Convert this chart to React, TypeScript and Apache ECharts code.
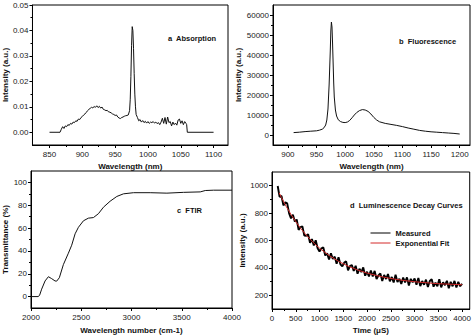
import React, { useEffect, useRef } from "react";
import * as echarts from "echarts";

// ---------- Panel a: Absorption ----------
const absWavelength = [
  850, 866, 868, 870, 872, 874, 876, 878, 880, 882, 884, 886, 888, 890, 892, 894, 896, 898, 900,
  902, 904, 906, 908, 910, 912, 914, 916, 918, 920, 922, 924, 926, 928, 930, 932, 934, 936, 938,
  940, 942, 944, 946, 948, 950, 952, 954, 956, 958, 960, 962, 964, 966, 968, 970, 972, 973, 974,
  975, 976, 977, 978, 979, 980, 981, 982, 984, 986, 988, 990, 992, 994, 996, 998, 1000, 1002,
  1004, 1006, 1008, 1010, 1012, 1014, 1016, 1018, 1020, 1022, 1024, 1026, 1028, 1030, 1032, 1034,
  1036, 1038, 1040, 1042, 1044, 1046, 1048, 1050, 1052, 1054, 1056, 1058, 1059, 1060, 1100,
];
const absIntensity = [
  0, 0, 0.0012, 0.0022, 0.0015, 0.0025, 0.0022, 0.003, 0.0027, 0.0035, 0.0032, 0.004, 0.0038,
  0.0045, 0.0043, 0.0052, 0.005, 0.0058, 0.0062, 0.0068, 0.0072, 0.0078, 0.0085, 0.009, 0.0094,
  0.0098, 0.0096, 0.0101, 0.0098, 0.0104, 0.0097, 0.0102, 0.0095, 0.0099, 0.009, 0.0088, 0.0085,
  0.0086, 0.008, 0.0079, 0.0076, 0.0072, 0.007, 0.0066, 0.0068, 0.006, 0.0056, 0.0054, 0.0058,
  0.006, 0.0063, 0.0065, 0.0066, 0.0068, 0.0085, 0.013, 0.022, 0.034, 0.0415, 0.04, 0.033, 0.023,
  0.015, 0.01, 0.007, 0.0058, 0.0045, 0.005, 0.004, 0.0046, 0.0038, 0.0043, 0.0036, 0.0042,
  0.0035, 0.004, 0.0038, 0.0042, 0.0036, 0.004, 0.0034, 0.0038, 0.003, 0.004, 0.0055, 0.0035,
  0.0058, 0.0032, 0.006, 0.0038, 0.0042, 0.0025, 0.004, 0.003, 0.0036, 0.0028, 0.0048, 0.0052,
  0.0035, 0.0045, 0.003, 0.0042, 0.0035, 0.003, 0, 0,
];
const absXTicks = [850, 900, 950, 1000, 1050, 1100];
const absXMinor = [875, 925, 975, 1025, 1075];
const absYTicks = [0, 0.01, 0.02, 0.03, 0.04, 0.05];
const absYMinor = [0.005, 0.015, 0.025, 0.035, 0.045];

// ---------- Panel b: Fluorescence ----------
const fluWavelength = [
  910, 920, 930, 940, 950, 955, 960, 963, 966, 968, 970, 972, 974, 975, 976, 977, 978, 979, 980,
  981, 983, 985, 988, 992, 996, 1000, 1004, 1008, 1012, 1016, 1020, 1025, 1030, 1035, 1040, 1045,
  1050, 1055, 1060, 1070, 1080, 1090, 1100, 1110, 1120, 1130, 1140, 1150, 1160, 1170, 1180, 1190,
  1200,
];
const fluIntensity = [
  1200, 1400, 1700, 1900, 2100, 2400, 2900, 3600, 5000, 7500, 13000, 25000, 42000, 52000, 56500,
  54000, 46000, 36000, 26000, 19000, 12500, 9500, 7600, 6700, 6300, 6200, 6500, 7300, 8600, 10000,
  11200, 12200, 12700, 12500, 11800, 10500, 8800, 7500, 6600, 5800, 5300, 4800, 4200, 3500, 2900,
  2300, 1900, 1600, 1400, 1200, 1000, 800, 500,
];
const fluXTicks = [900, 950, 1000, 1050, 1100, 1150, 1200];
const fluXMinor = [925, 975, 1025, 1075, 1125, 1175];
const fluYTicks = [0, 10000, 20000, 30000, 40000, 50000, 60000];
const fluYMinor = [5000, 15000, 25000, 35000, 45000, 55000];

// ---------- Panel c: FTIR ----------
const ftirWavenumber = [
  2000, 2070, 2085, 2106, 2140, 2173, 2206, 2239, 2255, 2282, 2322, 2372, 2405, 2439, 2472, 2522,
  2571, 2621, 2671, 2721, 2787, 2854, 2920, 3020, 3186, 3352, 3518, 3684, 3734, 3817, 4000,
];
const ftirTransmittance = [
  0, 0, 1, 6.5, 13.7, 17.4, 15.7, 13.7, 13.5, 16.5, 28, 38, 45, 55, 60.7, 66.4, 68.7, 69.2, 72.6,
  78.3, 83.5, 87.7, 90, 91, 91, 90.6, 91.3, 91.7, 92.9, 93.2, 93.2,
];
const ftirXTicks = [2000, 2500, 3000, 3500, 4000];
const ftirXMinor = [2250, 2750, 3250, 3750];
const ftirYTicks = [0, 20, 40, 60, 80, 100];
const ftirYMinor = [10, 30, 50, 70, 90];

// ---------- Panel d: Luminescence decay ----------
const decayTime = [
  120, 160, 200, 240, 280, 320, 360, 400, 440, 480, 520, 560, 600, 640, 680, 720, 760, 800, 840,
  880, 920, 960, 1000, 1040, 1080, 1120, 1160, 1200, 1240, 1280, 1320, 1360, 1400, 1440, 1480,
  1520, 1560, 1600, 1640, 1680, 1720, 1760, 1800, 1840, 1880, 1920, 1960, 2000, 2040, 2080, 2120,
  2160, 2200, 2240, 2280, 2320, 2360, 2400, 2440, 2480, 2520, 2560, 2600, 2640, 2680, 2720, 2760,
  2800, 2840, 2880, 2920, 2960, 3000, 3040, 3080, 3120, 3160, 3200, 3240, 3280, 3320, 3360, 3400,
  3440, 3480, 3520, 3560, 3600, 3640, 3680, 3720, 3760, 3800, 3840, 3880, 3920, 3960, 4000,
];
const decayMeasured = [
  998, 919, 925, 856, 879, 871, 798, 762, 788, 738, 753, 677, 698, 703, 636, 635, 646, 583, 610,
  564, 602, 544, 519, 543, 549, 491, 506, 461, 506, 465, 482, 430, 478, 426, 411, 439, 448, 383,
  413, 421, 378, 415, 357, 394, 370, 403, 343, 372, 338, 381, 337, 378, 319, 345, 360, 305, 348,
  319, 355, 302, 334, 293, 351, 297, 321, 283, 329, 295, 331, 272, 320, 294, 323, 278, 326, 267,
  304, 277, 314, 261, 304, 317, 263, 292, 266, 317, 258, 295, 274, 306, 251, 298, 266, 305, 257,
  298, 266, 284,
];
const fitTime = [
  150, 200, 300, 400, 500, 600, 700, 800, 900, 1000, 1200, 1400, 1600, 1800, 2000, 2200, 2400,
  2600, 2800, 3000, 3200, 3400, 3600, 3800, 4000,
];
const fitIntensity = [
  948, 913, 848, 790, 738, 690, 648, 610, 575, 544, 491, 448, 413, 385, 362, 344, 329, 317, 307,
  299, 293, 287, 283, 280, 277,
];
const decayXTicks = [0, 500, 1000, 1500, 2000, 2500, 3000, 3500, 4000];
const decayXMinor = [250, 750, 1250, 1750, 2250, 2750, 3250, 3750];
const decayYTicks = [200, 400, 600, 800, 1000];
const decayYMinor = [300, 500, 700, 900];

const FONT = "'Liberation Sans', Arial, Helvetica, sans-serif";
const AXIS_COLOR = "#000";
const LABEL_COLOR = "#222";

const pairs = (x: number[], y: number[]) => x.map((v, i) => [v, y[i]]);

function xAxes(
  gridIndex: number,
  min: number,
  max: number,
  majors: number[],
  minors: number[],
  name: string,
  nameGap: number
) {
  return [
    {
      type: "value",
      gridIndex,
      position: "bottom",
      min,
      max,
      name,
      nameLocation: "middle",
      nameGap,
      nameTextStyle: { fontFamily: FONT, fontSize: 8, fontWeight: "bold", color: "#111" },
      axisLine: { show: true, onZero: false, lineStyle: { color: AXIS_COLOR, width: 1 } },
      axisTick: { show: true, inside: false, length: 3, customValues: majors, lineStyle: { color: AXIS_COLOR } },
      axisLabel: {
        show: true,
        customValues: majors,
        margin: 5,
        fontSize: 8,
        fontFamily: FONT,
        color: LABEL_COLOR,
        formatter: (v: number) => String(v),
      },
      splitLine: { show: false },
    },
    {
      type: "value",
      gridIndex,
      position: "bottom",
      min,
      max,
      axisLine: { show: false, onZero: false },
      axisTick: { show: true, inside: false, length: 2, customValues: minors, lineStyle: { color: AXIS_COLOR } },
      axisLabel: { show: false },
      splitLine: { show: false },
    },
  ];
}

function yAxes(
  gridIndex: number,
  min: number,
  max: number,
  majors: number[],
  minors: number[],
  name: string,
  nameGap: number,
  formatter?: (v: number) => string
) {
  return [
    {
      type: "value",
      gridIndex,
      position: "left",
      min,
      max,
      name,
      nameLocation: "middle",
      nameGap,
      nameTextStyle: { fontFamily: FONT, fontSize: 8, fontWeight: "bold", color: "#111" },
      axisLine: { show: true, onZero: false, lineStyle: { color: AXIS_COLOR, width: 1 } },
      axisTick: { show: true, inside: false, length: 3, customValues: majors, lineStyle: { color: AXIS_COLOR } },
      axisLabel: {
        show: true,
        customValues: majors,
        margin: 4,
        fontSize: 8,
        fontFamily: FONT,
        color: LABEL_COLOR,
        formatter: formatter || ((v: number) => String(v)),
      },
      splitLine: { show: false },
    },
    {
      type: "value",
      gridIndex,
      position: "left",
      min,
      max,
      axisLine: { show: false, onZero: false },
      axisTick: { show: true, inside: false, length: 2, customValues: minors, lineStyle: { color: AXIS_COLOR } },
      axisLabel: { show: false },
      splitLine: { show: false },
    },
  ];
}

function annot(x: number, y: number, text: string) {
  return {
    type: "text",
    x,
    y,
    style: {
      text,
      fontFamily: FONT,
      fontSize: 7.5,
      fontWeight: "bold",
      fill: "#111",
      verticalAlign: "middle",
      align: "left",
    },
  };
}

export default function App() {
  const ref = useRef<HTMLDivElement>(null);

  useEffect(() => {
    document.body.style.margin = "0";
    if (!ref.current) return;
    const chart = echarts.init(ref.current, undefined, { renderer: "svg" });
    const gridBase = { show: true, borderColor: "#000", borderWidth: 1, backgroundColor: "transparent" };
    const lineBase = { type: "line", showSymbol: false, symbol: "none", smooth: false };

    chart.setOption({
      animation: false,
      backgroundColor: "#fff",
      grid: [
        { ...gridBase, left: 31, top: 5, width: 197, height: 140 },
        { ...gridBase, left: 273, top: 5, width: 197, height: 140 },
        { ...gridBase, left: 31, top: 171, width: 201, height: 139 },
        { ...gridBase, left: 272, top: 172, width: 198, height: 139 },
      ],
      xAxis: [
        ...xAxes(0, 824, 1122, absXTicks, absXMinor, "Wavelength (nm)", 17),
        ...xAxes(1, 874, 1218, fluXTicks, fluXMinor, "Wavelength (nm)", 17),
        ...xAxes(2, 2000, 4000, ftirXTicks, ftirXMinor, "Wavelength number (cm-1)", 18),
        ...xAxes(3, 0, 4160, decayXTicks, decayXMinor, "Time (μS)", 17),
      ],
      yAxis: [
        ...yAxes(0, -0.005, 0.05, absYTicks, absYMinor, "Intensity (a.u.)", 21, (v: number) => v.toFixed(2)),
        ...yAxes(1, -5000, 65000, fluYTicks, fluYMinor, "Intensity (a.u.)", 27),
        ...yAxes(2, -10, 110, ftirYTicks, ftirYMinor, "Transmittance (%)", 21),
        ...yAxes(3, 100, 1100, decayYTicks, decayYMinor, "Intensity (a.u.)", 21),
      ],
      legend: {
        show: true,
        orient: "vertical",
        left: 365,
        top: 224,
        itemWidth: 20,
        itemHeight: 8,
        itemGap: 2,
        itemStyle: { opacity: 0 },
        lineStyle: { width: 1 },
        textStyle: { fontFamily: FONT, fontSize: 7.5, fontWeight: "bold", color: "#111" },
        data: ["Measured", "Exponential Fit"],
      },
      graphic: [
        annot(168, 38, "a  Absorption"),
        annot(399, 41, "b  Fluorescence"),
        annot(177, 210, "c  FTIR"),
        annot(350, 205, "d  Luminescence Decay Curves"),
      ],
      series: [
        {
          ...lineBase,
          name: "Absorption",
          xAxisIndex: 0,
          yAxisIndex: 0,
          data: pairs(absWavelength, absIntensity),
          lineStyle: { color: "#111", width: 1 },
          itemStyle: { color: "#111" },
        },
        {
          ...lineBase,
          name: "Fluorescence",
          xAxisIndex: 2,
          yAxisIndex: 2,
          data: pairs(fluWavelength, fluIntensity),
          lineStyle: { color: "#111", width: 1 },
          itemStyle: { color: "#111" },
        },
        {
          ...lineBase,
          name: "FTIR",
          xAxisIndex: 4,
          yAxisIndex: 4,
          data: pairs(ftirWavenumber, ftirTransmittance),
          lineStyle: { color: "#111", width: 1 },
          itemStyle: { color: "#111" },
        },
        {
          ...lineBase,
          name: "Measured",
          xAxisIndex: 6,
          yAxisIndex: 6,
          data: pairs(decayTime, decayMeasured),
          lineStyle: { color: "#000", width: 1.9 },
          itemStyle: { color: "#000" },
        },
        {
          ...lineBase,
          name: "Exponential Fit",
          xAxisIndex: 6,
          yAxisIndex: 6,
          data: pairs(fitTime, fitIntensity),
          lineStyle: { color: "#d42a2a", width: 1 },
          itemStyle: { color: "#d42a2a" },
        },
      ],
    });
    return () => chart.dispose();
  }, []);

  return <div ref={ref} style={{ width: 474, height: 335 }} />;
}
